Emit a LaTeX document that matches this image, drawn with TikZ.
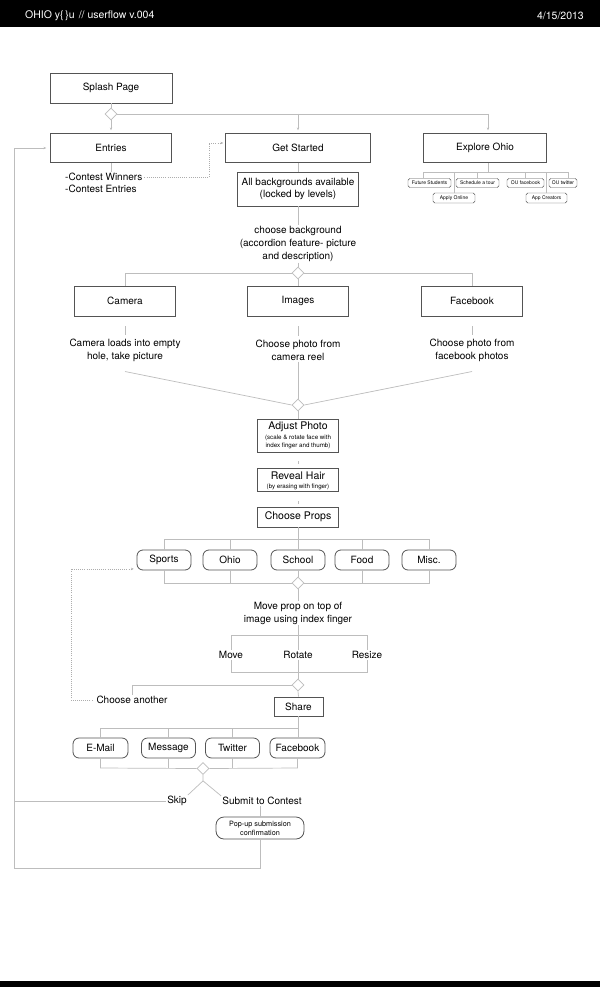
\documentclass[tikz,border=0pt]{standalone}
\usepackage{fontspec}
\setmainfont{TeX Gyre Heros}
\usetikzlibrary{shapes.geometric,arrows.meta,calc}
\definecolor{linec}{gray}{0.74}
\definecolor{boxc}{gray}{0.33}
\definecolor{dotc}{gray}{0.68}
\begin{document}
\begin{tikzpicture}[x=1pt,y=-1pt,
  box/.style={draw=boxc, line width=0.8pt, fill=white, inner sep=1pt, align=center, font=\fontsize{10}{12}\selectfont},
  rbox/.style={box, rounded corners=6pt},
  tbox/.style={draw=boxc, line width=0.45pt, fill=white, rounded corners=1.8pt, inner sep=0pt, minimum height=9pt, font=\fontsize{5}{6}\selectfont},
  dia/.style={diamond, draw=linec, fill=white, line width=0.7pt, minimum width=12pt, minimum height=12pt, inner sep=0pt},
  ln/.style={draw=linec, line width=0.7pt},
  arr/.style={ln, -{Stealth[length=2.6pt, width=2.4pt]}},
  dotln/.style={draw=dotc, line width=0.7pt, dash pattern=on 0.8pt off 1.3pt, -{Stealth[length=2.6pt, width=2.4pt]}},
  lbl/.style={inner sep=1pt, align=center, font=\fontsize{10}{13}\selectfont},
  sub/.style={inner sep=0pt, align=center, font=\fontsize{6.2}{8.5}\selectfont},
  hdr/.style={text=white, inner sep=0pt, font=\fontsize{10.5}{12}\selectfont}
]
\useasboundingbox (0,0) rectangle (600,987);
\fill[white] (0,0) rectangle (600,987);
% header and footer bars
\fill[black] (0,0) rectangle (600,27.5);
\fill[black] (0,981) rectangle (600,987);
\node[hdr, anchor=west] (title) at (25,15.5) {OHIO y\{\,\}u\hspace{4pt}// userflow v.004};
\node[hdr, anchor=east] (date) at (584,15.5) {4/15/2013};

% top level
\node[box, minimum width=122pt, minimum height=30pt] (splash) at (111,88) {Splash Page};
\node[dia] (d1) at (111,114) {};
\node[box, minimum width=121pt, minimum height=29pt] (entries) at (111,148) {Entries};
\node[box, minimum width=145pt, minimum height=29pt] (getstarted) at (298,148) {Get Started};
\node[box, minimum width=123pt, minimum height=29pt] (explore) at (485,148) {Explore Ohio};
\coordinate (j1) at (488,114);

\draw[ln] (splash.south) -- (d1.north);
\draw[arr, shorten >=3pt] (d1.south) -- (entries.north);
\draw[ln] (d1.east) -- (j1);
\draw[arr, shorten >=3pt] (getstarted.north |- j1) -- (getstarted.north);
\draw[arr, shorten >=3pt] (j1) -- (j1 |- explore.north);

% entries
\node[lbl, anchor=west] (cw) at (64,177) {-Contest Winners};
\node[lbl, anchor=west] (ce) at (64,189) {-Contest Entries};
\draw[ln] (entries.south) -- (entries.south |- cw.north);
\coordinate (dj) at (209,177);
\draw[dotln, shorten <=1pt] (cw.east) -- (dj) |- ($(getstarted.west)+(-2,-5)$);

% explore ohio sub items
\node[tbox, minimum width=43pt] (fs) at (429.5,183) {Future Students};
\node[tbox, minimum width=43pt] (sat) at (477.5,183) {Schedule a tour};
\node[tbox, minimum width=37pt] (oufb) at (525.5,183) {OU facebook};
\node[tbox, minimum width=28pt] (outw) at (563,183) {OU twitter};
\node[tbox, minimum width=42pt, minimum height=10pt] (ao) at (454,198) {Apply Online};
\node[tbox, minimum width=41pt, minimum height=10pt] (ac) at (546.5,198) {App Creators};
\coordinate (eo) at (488,172);
\coordinate (eL) at (423,172);
\coordinate (eR) at (568,172);
\draw[ln] (explore.south -| eo) -- (eo);
\draw[ln] (eL |- fs.north) -- (eL) -- (eR) -- (eR |- outw.north);
\draw[ln] (ao.north) -- (ao.north |- eL);
\draw[ln] (sat.north) -- (sat.north |- eL);
\draw[ln] (oufb.north) -- (oufb.north |- eL);
\draw[ln] (ac.north) -- (ac.north |- eL);

% get started chain
\node[box, minimum width=121pt, minimum height=34pt] (allbg) at (298,189) {All backgrounds available\\(locked by levels)};
\draw[ln] (getstarted.south) -- (allbg.north);
\node[lbl] (cb) at (298,244) {choose background\\(accordion feature- picture\\and description)};
\draw[ln] (allbg.south) -- (cb.north);
\node[dia] (d2) at (298,273) {};
\draw[ln] (cb.south) -- (d2.north);

\node[box, minimum width=101pt, minimum height=30pt] (camera) at (125,301) {Camera};
\node[box, minimum width=101pt, minimum height=30pt] (images) at (298,301) {Images};
\node[box, minimum width=101pt, minimum height=30pt] (facebook) at (472,301) {Facebook};
\draw[ln] (d2.west) -| (camera.north);
\draw[ln] (d2.east) -| (facebook.north);
\draw[ln] (d2.south) -- (images.north);

\node[lbl] (camtext) at (125,350) {Camera loads into empty\\hole, take picture};
\node[lbl] (imtext) at (298,350) {Choose photo from\\camera reel};
\node[lbl] (fbtext) at (472,350) {Choose photo from\\facebook photos};
\draw[ln, shorten <=10pt, shorten >=2pt] (camera.south) -- (camtext.north);
\draw[ln, shorten <=10pt, shorten >=2pt] (images.south) -- (imtext.north);
\draw[ln, shorten <=10pt, shorten >=2pt] (facebook.south) -- (fbtext.north);

\node[dia] (d3) at (298,405) {};
\draw[ln] ($(camtext.south)+(0,9)$) -- (d3.west);
\draw[ln] ($(fbtext.south)+(0,9)$) -- (d3.east);
\draw[ln] (imtext.south) -- (d3.north);

% adjust / reveal / props
\node[box, minimum width=81pt, minimum height=33pt] (adjust) at (298,435.5) {};
\node[inner sep=0pt, font=\fontsize{10.5}{12}\selectfont] (adjustT) at (298,426.5) {Adjust Photo};
\node[sub] (adjustS) at (298,442) {(scale \& rotate face with\\index finger and thumb)};
\draw[ln] (d3.south) -- (adjust.north);

\node[box, minimum width=81pt, minimum height=23pt] (reveal) at (298,479.5) {};
\node[inner sep=0pt, font=\fontsize{10.5}{12}\selectfont] (revealT) at (298,476) {Reveal Hair};
\node[sub] (revealS) at (298,486.5) {(by erasing with finger)};
\draw[ln, shorten <=9pt, shorten >=4pt] (adjust.south) -- (reveal.north);

\node[box, minimum width=81pt, minimum height=20pt, font=\fontsize{10.5}{12}\selectfont] (props) at (298,517) {Choose Props};
\draw[ln, shorten <=10pt, shorten >=3pt] (reveal.south) -- (props.north);

\node[rbox, minimum width=54pt, minimum height=20pt] (sports) at (164,560) {Sports};
\node[rbox, minimum width=54pt, minimum height=20pt] (ohio) at (230,560) {Ohio};
\node[rbox, minimum width=54pt, minimum height=20pt] (school) at (298,560) {School};
\node[rbox, minimum width=54pt, minimum height=20pt] (food) at (362,560) {Food};
\node[rbox, minimum width=54pt, minimum height=20pt] (misc) at (429,560) {Misc.};
\coordinate (pt) at (0,539);
\coordinate (pb) at (0,583);
\node[dia] (d4) at (298,583) {};
\draw[ln] (props.south) -- (school.north);
\draw[ln] (sports.north) -- (sports.north |- pt) -- (misc.north |- pt) -- (misc.north);
\draw[ln] (ohio.north) -- (ohio.north |- pt);
\draw[ln] (food.north) -- (food.north |- pt);
\draw[ln] (sports.south) -- (sports.south |- pb) -- (d4.west);
\draw[ln] (d4.east) -- (misc.south |- pb) -- (misc.south);
\draw[ln] (ohio.south) -- (ohio.south |- pb);
\draw[ln] (food.south) -- (food.south |- pb);
\draw[ln] (school.south) -- (d4.north);

% move prop
\node[lbl] (mp) at (298,613) {Move prop on top of\\image using index finger};
\draw[ln] (d4.south) -- (mp.north);
\node[lbl] (move) at (231,655) {Move};
\node[lbl] (rotate) at (298,655) {Rotate};
\node[lbl] (resize) at (367,655) {Resize};
\coordinate (mt) at (0,635);
\coordinate (mb) at (0,672);
\node[dia] (d5) at (298,685) {};
\draw[ln] (mp.south) -- (rotate.north);
\draw[ln] (move.north) -- (move.north |- mt) -- (resize.north |- mt) -- (resize.north);
\draw[ln] (move.south) -- (move.south |- mb) -- (resize.south |- mb) -- (resize.south);
\draw[ln] (rotate.south) -- (d5.north);

\node[lbl] (choose) at (132,700) {Choose another};
\draw[ln] (d5.west) -| (choose.north);
\coordinate (cj) at (71,700);
\draw[dotln, shorten <=3pt] (choose.west) -- (cj) |- ($(sports.south west)+(-3,-1.5)$);

% share
\node[box, minimum width=49pt, minimum height=19pt] (share) at (298.5,706.5) {Share};
\draw[ln] (d5.south) -- (share.north);
\node[rbox, minimum width=55pt, minimum height=20pt] (email) at (100.5,748) {E-Mail};
\node[rbox, minimum width=54pt, minimum height=20pt] (message) at (168.5,748) {Message};
\node[rbox, minimum width=54pt, minimum height=20pt] (twitter) at (232.5,748) {Twitter};
\node[rbox, minimum width=55pt, minimum height=20pt] (fb2) at (297.5,748) {Facebook};
\coordinate (st) at (0,728);
\coordinate (sb) at (0,768);
\node[dia] (d6) at (203,768.5) {};
\draw[ln] (share.south) -- (share.south |- fb2.north);
\draw[ln] (email.north) -- (email.north |- st) -- (share.south |- st);
\draw[ln] (message.north) -- (message.north |- st);
\draw[ln] (twitter.north) -- (twitter.north |- st);
\draw[ln] (email.south) -- (email.south |- sb) -- (d6.west);
\draw[ln] (d6.east) -- (fb2.south |- sb) -- (fb2.south);
\draw[ln] (message.south) -- (message.south |- sb);
\draw[ln] (twitter.south) -- (twitter.south |- sb);

% skip / submit
\node[lbl] (skip) at (177,801) {Skip};
\node[lbl] (submit) at (262,801) {Submit to Contest};
\coordinate (fork) at ($(d6.south)+(0,6)$);
\draw[ln] (d6.south) -- (fork) -- (skip.north east);
\draw[ln] (fork) -- (submit.north west);
\node[rbox, minimum width=88pt, minimum height=22pt, rounded corners=8pt, font=\fontsize{7.3}{9}\selectfont] (popup) at (260,828) {Pop-up submission\\confirmation};
\draw[ln] (submit.south -| popup.north) -- (popup.north);

% loop back to entries
\coordinate (lb) at (14,868);
\draw[arr, shorten >=4pt] (popup.south) |- (lb) |- (entries.west);
\draw[ln] (skip.west) -- (skip.west -| lb);
\end{tikzpicture}
\end{document}
